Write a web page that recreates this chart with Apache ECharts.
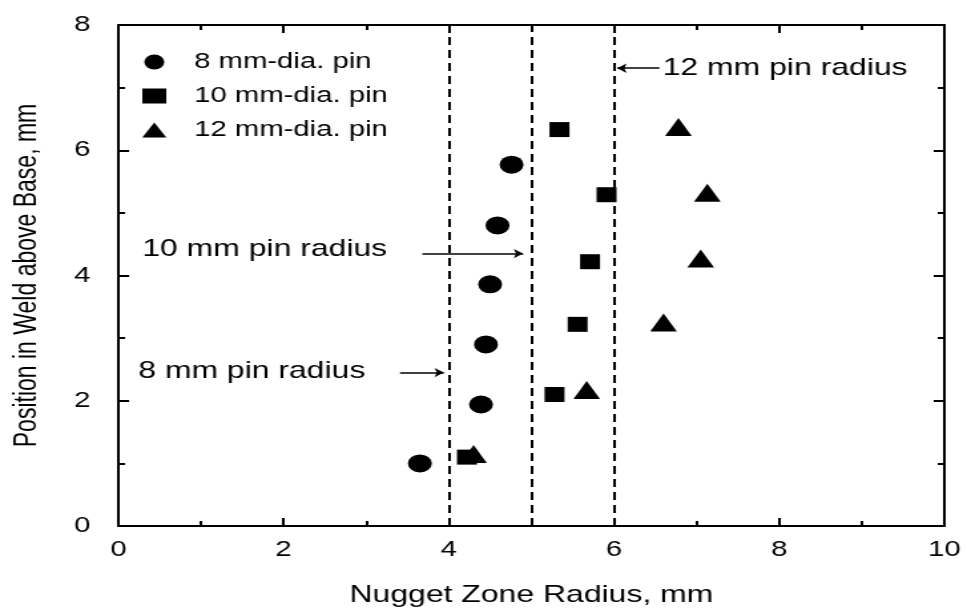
<!DOCTYPE html>
<html>
<head>
<meta charset="utf-8">
<script src="https://cdn.jsdelivr.net/npm/echarts@6/dist/echarts.min.js"></script>
<style>
  html, body { margin: 0; padding: 0; background: #fff; overflow: hidden; }
  /* the source figure is stretched sideways, so draw narrower and widen it */
  #chart { width: 727px; height: 612px; transform: scaleX(1.3301); transform-origin: 0 0; }
</style>
</head>
<body>
<div id="chart"></div>
<script>
// data: [nugget zone radius, position above base]
var pin8 = [[3.65, 1.0], [4.39, 1.94], [4.45, 2.9], [4.5, 3.86], [4.59, 4.8], [4.76, 5.77]];
var pin10 = [[4.22, 1.1], [5.28, 2.1], [5.56, 3.22], [5.71, 4.22], [5.91, 5.29], [5.34, 6.33]];
var pin12 = [[4.3, 1.15], [5.67, 2.17], [6.6, 3.25], [7.05, 4.27], [7.13, 5.32], [6.78, 6.37]];
var seriesNames = ['8 mm-dia. pin', '10 mm-dia. pin', '12 mm-dia. pin'];
var pinRadii = [4, 5, 6];
var xTicks = [0, 2, 4, 6, 8, 10];
var yTicks = [0, 2, 4, 6, 8];
// annotation labels and their arrows [from, to]
var notes = [
  { text: '12 mm pin radius', at: [6.59, 7.31], arrow: [[6.55, 7.31], [6.04, 7.31]] },
  { text: '10 mm pin radius', at: [0.29, 4.41], arrow: [[3.68, 4.35], [4.9, 4.35]] },
  { text: '8 mm pin radius', at: [0.24, 2.47], arrow: [[3.41, 2.45], [3.94, 2.45]] }
];

var chart = echarts.init(document.getElementById('chart'));
var font = 'Liberation Sans, Arial, sans-serif';

function axisCommon(pos, isX) {
  return {
    type: 'value',
    position: pos,
    min: 0,
    max: isX ? 10 : 8,
    interval: 2,
    axisLine: { show: true, onZero: false, lineStyle: { color: '#000', width: 2 } },
    axisTick: { show: true, inside: true, length: 8, lineStyle: { color: '#000', width: 2 } },
    minorTick: { show: true, splitNumber: 2, length: 5, lineStyle: { color: '#000', width: 2 } },
    splitLine: { show: false },
    axisLabel: { show: false }
  };
}

var xBottom = axisCommon('bottom', true);
xBottom.axisLabel = { show: true, color: '#000', fontSize: 22, fontFamily: font, margin: 13,
  formatter: function (v) { return xTicks.indexOf(v) >= 0 ? v : ''; } };
xBottom.name = 'Nugget Zone Radius, mm';
xBottom.nameLocation = 'middle';
xBottom.nameGap = 57;
xBottom.nameTextStyle = { color: '#000', fontSize: 24, fontFamily: font };

var yLeft = axisCommon('left', false);
yLeft.axisLabel = { show: true, color: '#000', fontSize: 22, fontFamily: font, margin: 21,
  formatter: function (v) { return yTicks.indexOf(v) >= 0 ? v : ''; } };
yLeft.name = 'Position in Weld above Base, mm';
yLeft.nameLocation = 'middle';
yLeft.nameGap = 57;
yLeft.nameTextStyle = { color: '#000', fontSize: 23, fontFamily: font };

var symbols = ['circle', 'rect', 'triangle'];
var sizes = [18, 15, [20, 18]];
var sets = [pin8, pin10, pin12];

var series = sets.map(function (d, i) {
  return {
    name: seriesNames[i],
    type: 'scatter',
    data: d,
    symbol: symbols[i],
    symbolSize: sizes[i],
    itemStyle: { color: '#000', opacity: 1 },
    z: 5
  };
});

// dashed pin radius lines
series.push({
  type: 'line',
  data: [],
  silent: true,
  markLine: {
    symbol: 'none',
    label: { show: false },
    lineStyle: { color: '#000', type: [8, 5], width: 2 },
    data: pinRadii.map(function (r) { return { xAxis: r }; })
  }
});

// arrows
series.push({
  type: 'line',
  data: [],
  silent: true,
  markLine: {
    symbol: ['none', 'arrow'],
    symbolSize: [7, 7],
    label: { show: false },
    lineStyle: { color: '#000', type: 'solid', width: 1.5 },
    data: notes.map(function (n) {
      return [{ coord: n.arrow[0] }, { coord: n.arrow[1] }];
    })
  }
});

// annotation texts
series.push({
  type: 'scatter',
  silent: true,
  symbolSize: 0,
  itemStyle: { opacity: 1 },
  data: notes.map(function (n) { return { value: n.at, name: n.text }; }),
  label: {
    show: true,
    position: 'right',
    distance: 0,
    formatter: '{b}',
    color: '#000',
    fontSize: 24,
    fontFamily: font
  }
});

chart.setOption({
  backgroundColor: '#fff',
  animation: false,
  grid: { left: 89, right: 17, top: 25, bottom: 85 },
  legend: {
    data: seriesNames,
    orient: 'vertical',
    left: 102,
    top: 46,
    itemWidth: 18,
    itemHeight: 15,
    itemGap: 12,
    textStyle: { color: '#000', fontSize: 22, fontFamily: font, padding: [0, 0, 0, 16] }
  },
  xAxis: [xBottom, axisCommon('top', true)],
  yAxis: [yLeft, axisCommon('right', false)],
  series: series
});
window.addEventListener('resize', function () { chart.resize(); });
</script>
</body>
</html>
